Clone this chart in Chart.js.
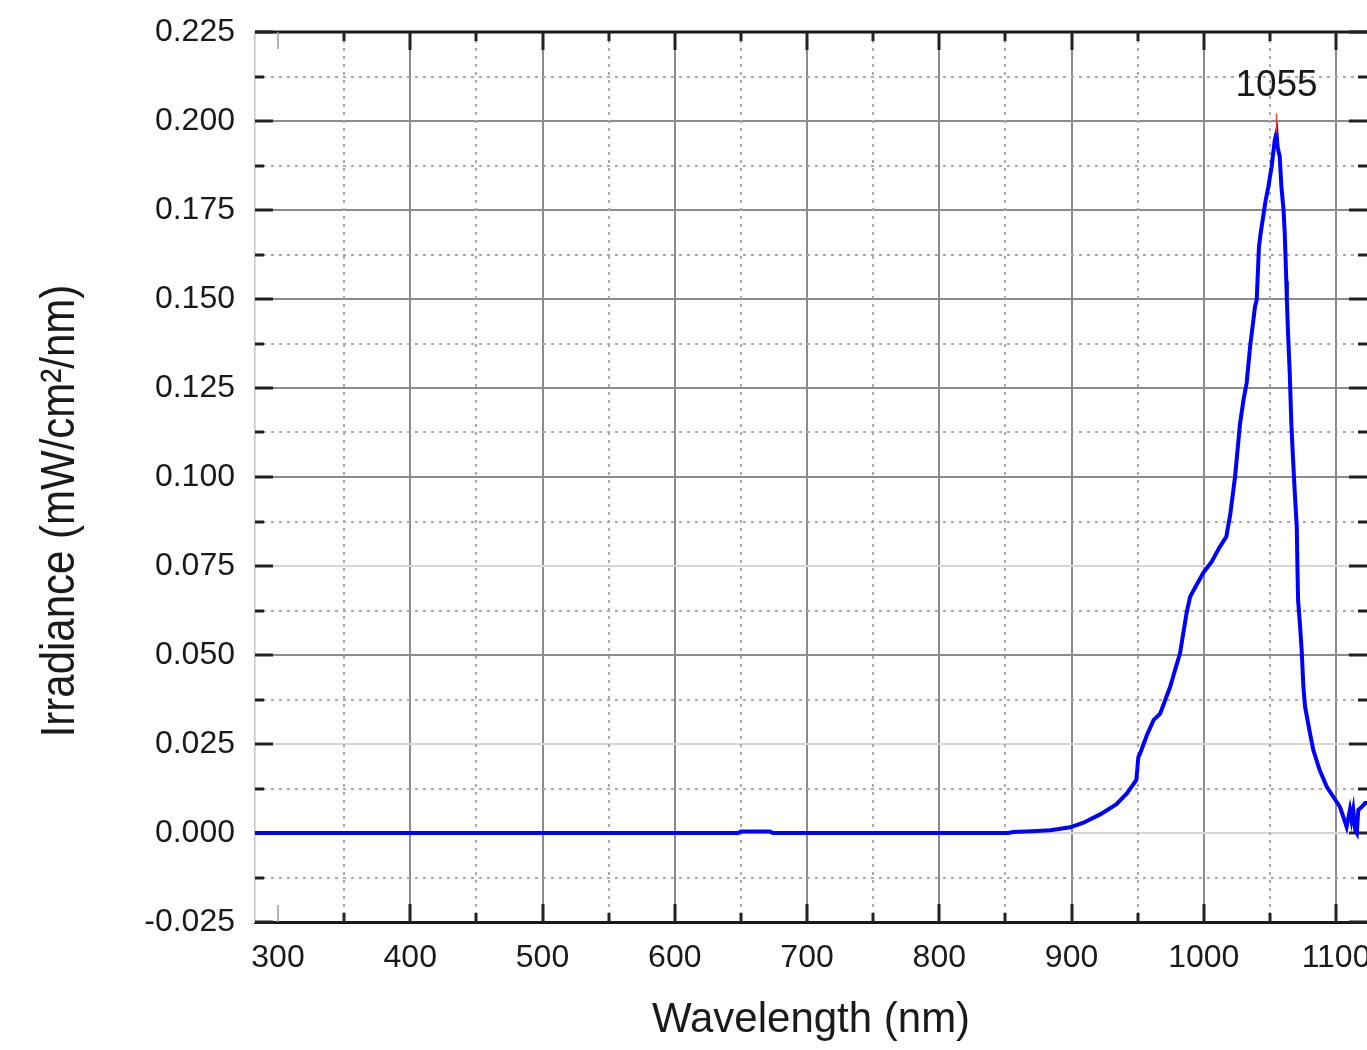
<!DOCTYPE html>
<html>
<head>
<meta charset="utf-8">
<title>Irradiance spectrum</title>
<script src="https://cdn.jsdelivr.net/npm/chart.js@4.4.1/dist/chart.umd.min.js"></script>
<style>
  html, body { margin: 0; padding: 0; background: #fff; }
  canvas { display: block; }
</style>
</head>
<body>
<canvas id="spectrum" width="1367" height="1050"></canvas>
<script>
// Spectral irradiance: wavelength (nm) against irradiance (mW/cm²/nm)
const wavelengths = [
  282.6, 400, 500, 600, 648, 650, 672, 674, 760, 852, 856, 870, 884, 899, 909,
  922, 934, 942, 949, 950.5, 952, 957, 962, 967, 974.5, 982, 987, 989.6, 992,
  999.5, 1006, 1012, 1017, 1020, 1023.6, 1027.4, 1030, 1032.4, 1035, 1038.7,
  1040, 1041.7, 1043, 1046.8, 1048.8, 1051.2, 1053.7, 1055, 1055.8, 1057.4,
  1058.7, 1060.3, 1061.2, 1062.4, 1062.8, 1063.7, 1065, 1066.2, 1067.4, 1068.7,
  1070.3, 1070.8, 1071.3, 1072.8, 1074, 1075.3, 1076.6, 1080.3, 1082.8, 1087.6,
  1093, 1098, 1103, 1105.5, 1108, 1110.5, 1111.7, 1113, 1114.5, 1115.7, 1116.8,
  1119.3, 1122, 1123.4
];
const irradiance = [
  0, 0, 0, 0, 0, 0.0004, 0.0004, 0, 0, 0, 0.0003, 0.0005, 0.0008, 0.0016, 0.0029,
  0.0053, 0.0081, 0.0112, 0.0149, 0.0213, 0.0225, 0.0275, 0.0317, 0.0335, 0.041,
  0.0505, 0.0618, 0.0663, 0.068, 0.073, 0.0762, 0.0803, 0.0832, 0.0895, 0.1,
  0.115, 0.1216, 0.1264, 0.1365, 0.1478, 0.1497, 0.1646, 0.1685, 0.1778, 0.1815,
  0.187, 0.1947, 0.1966, 0.1927, 0.19, 0.1815, 0.175, 0.1685, 0.155, 0.1497,
  0.1404, 0.129, 0.115, 0.1056, 0.0963, 0.086, 0.0747, 0.0654, 0.058, 0.0514,
  0.041, 0.0354, 0.028, 0.0233, 0.0177, 0.013, 0.0101, 0.0073, 0.0045, 0.0017,
  0.0065, 0.0037, 0.0065, 0.0008, 0, 0.0065, 0.0073, 0.0084, 0.0084
];

const xTicks = [300, 400, 500, 600, 700, 800, 900, 1000, 1100];
const xMinorTicks = [350, 450, 550, 650, 750, 850, 950, 1050];
const yTicks = [-0.025, 0, 0.025, 0.05, 0.075, 0.1, 0.125, 0.15, 0.175, 0.2, 0.225];
const yMinorTicks = [-0.0125, 0.0125, 0.0375, 0.0625, 0.0875, 0.1125, 0.1375, 0.1625, 0.1875, 0.2125];
// rows whose major grid line prints pale
const paleRows = [0, 0.025, 0.075];

const xMin = 282.6, xMax = 1123.4;
const yMin = -0.025, yMax = 0.225;

const peakIndex = irradiance.indexOf(Math.max(...irradiance));
const peakWavelength = wavelengths[peakIndex];
const peakValue = irradiance[peakIndex];

const FONT = "'Liberation Sans', Arial, sans-serif";
const near = (a, b) => Math.abs(a - b) < 1e-6;

const decor = {
  id: 'decor',
  // minor dotted grid, frame top and inward ticks sit under the curve
  beforeDatasetsDraw(chart) {
    const { ctx, chartArea: a, scales: { x, y } } = chart;
    ctx.save();
    ctx.strokeStyle = '#a9a9a9';
    ctx.lineWidth = 2;
    ctx.setLineDash([3, 5]);
    ctx.beginPath();
    xMinorTicks.forEach(v => {
      const px = Math.round(x.getPixelForValue(v));
      ctx.moveTo(px, a.top); ctx.lineTo(px, a.bottom);
    });
    yMinorTicks.forEach(v => {
      const py = Math.round(y.getPixelForValue(v));
      ctx.moveTo(a.left, py); ctx.lineTo(a.right, py);
    });
    ctx.stroke();
    ctx.setLineDash([]);

    ctx.strokeStyle = '#1a1a1a';
    ctx.lineWidth = 3;
    ctx.beginPath();
    ctx.moveTo(a.left, a.top); ctx.lineTo(a.right, a.top);
    ctx.stroke();

    const markX = (list, len, width) => {
      ctx.lineWidth = width;
      ctx.beginPath();
      list.forEach(v => {
        const px = Math.round(x.getPixelForValue(v));
        ctx.moveTo(px, a.bottom); ctx.lineTo(px, a.bottom - len);
        ctx.moveTo(px, a.top); ctx.lineTo(px, a.top + len);
      });
      ctx.stroke();
    };
    const markY = (list, len, width) => {
      ctx.lineWidth = width;
      ctx.beginPath();
      list.forEach(v => {
        const py = Math.round(y.getPixelForValue(v));
        ctx.moveTo(a.left, py); ctx.lineTo(a.left + len, py);
        ctx.moveTo(a.right, py); ctx.lineTo(a.right - len, py);
      });
      ctx.stroke();
    };
    ctx.strokeStyle = '#222';
    markX(xTicks.slice(1), 18, 3);
    markX(xMinorTicks, 9, 3);
    markY(yTicks, 18, 3);
    markY(yMinorTicks, 9, 3);
    ctx.strokeStyle = '#999';
    markX([xTicks[0]], 17, 1.5);
    ctx.restore();
  },
  afterDraw(chart) {
    const { ctx, scales: { x, y } } = chart;
    ctx.save();

    // peak marker and its wavelength label
    const px = x.getPixelForValue(peakWavelength);
    const pTop = y.getPixelForValue(peakValue + 0.0055);
    ctx.strokeStyle = '#e23a3a';
    ctx.lineWidth = 1.5;
    ctx.beginPath();
    ctx.moveTo(px, y.getPixelForValue(peakValue)); ctx.lineTo(px, pTop);
    ctx.stroke();
    ctx.fillStyle = '#1a1a1a';
    ctx.font = '37px ' + FONT;
    ctx.textAlign = 'center';
    ctx.textBaseline = 'middle';
    ctx.fillText(String(peakWavelength), px, pTop - 28);

    // vertical axis title
    ctx.translate(61, 511);
    ctx.scale(1.15, 1);
    ctx.rotate(-Math.PI / 2);
    ctx.font = '42px ' + FONT;
    ctx.fillText('Irradiance (mW/cm\u00B2/nm)', 0, 0);
    ctx.restore();
  }
};

new Chart(document.getElementById('spectrum'), {
  type: 'line',
  data: {
    datasets: [{
      data: wavelengths.map((w, i) => ({ x: w, y: irradiance[i] })),
      borderColor: '#0000ff',
      borderWidth: 4,
      pointRadius: 0,
      tension: 0,
      fill: false
    }]
  },
  options: {
    responsive: false,
    animation: false,
    layout: { padding: { top: 32, left: 0, right: 0, bottom: 0 } },
    plugins: { legend: { display: false }, tooltip: { enabled: false } },
    scales: {
      x: {
        type: 'linear',
        min: xMin,
        max: xMax,
        afterBuildTicks: s => { s.ticks = xTicks.map(v => ({ value: v })); },
        afterFit: s => { s.height = 128; s.paddingLeft = 0; s.paddingRight = 0; },
        ticks: {
          autoSkip: false,
          maxRotation: 0,
          padding: 17,
          color: '#1a1a1a',
          font: { family: FONT, size: 32 },
          callback: v => String(v)
        },
        grid: {
          drawTicks: false,
          lineWidth: 2,
          color: c => (c.tick && near(c.tick.value, xTicks[0])) ? 'rgba(0,0,0,0)' : '#8c8c8c'
        },
        border: { color: '#1a1a1a', width: 3 },
        title: {
          display: true,
          text: 'Wavelength (nm)',
          color: '#1a1a1a',
          font: { family: FONT, size: 42 },
          padding: { top: 0, bottom: 4 }
        }
      },
      y: {
        min: yMin,
        max: yMax,
        afterBuildTicks: s => { s.ticks = yTicks.map(v => ({ value: v })); },
        afterFit: s => { s.width = 255; s.paddingTop = 0; s.paddingBottom = 0; },
        ticks: {
          padding: 20,
          color: '#1a1a1a',
          font: { family: FONT, size: 32 },
          callback: v => v.toFixed(3)
        },
        grid: {
          drawTicks: false,
          lineWidth: 2,
          color: c => (c.tick && paleRows.some(r => near(r, c.tick.value))) ? '#d6d6d6' : '#8c8c8c'
        },
        border: { color: '#c4c4c4', width: 1.5 }
      }
    }
  },
  plugins: [decor]
});
</script>
</body>
</html>
